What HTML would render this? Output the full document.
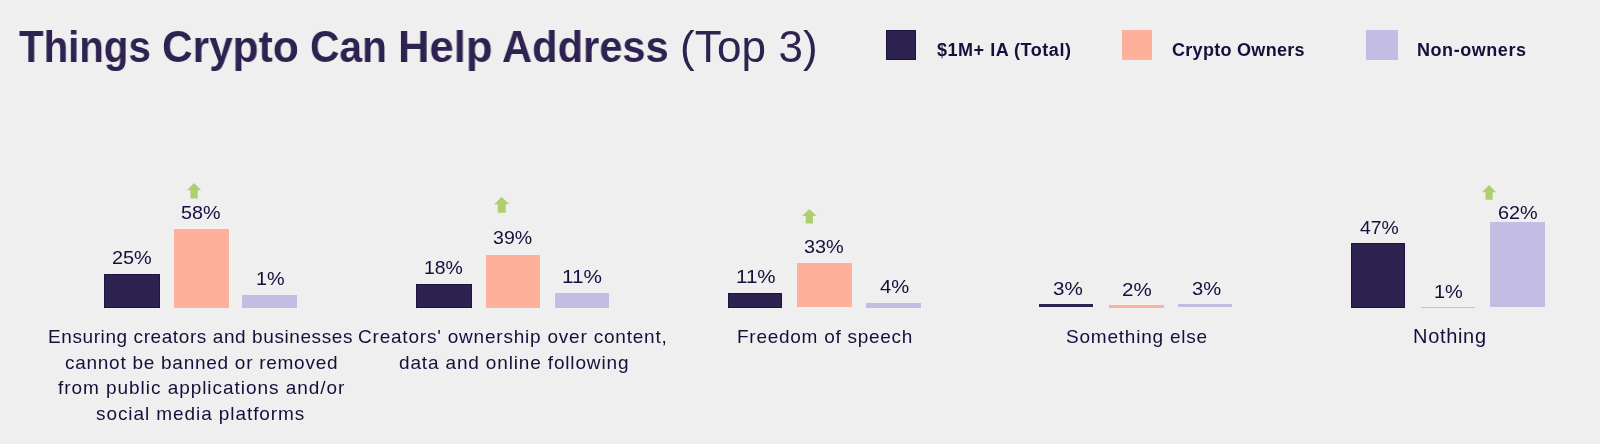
<!DOCTYPE html>
<html><head><meta charset="utf-8"><style>
html,body{margin:0;padding:0;}
body{width:1600px;height:444px;background:#efefef;position:relative;overflow:hidden;font-family:"Liberation Sans",sans-serif;}
.r{position:absolute}
.t{position:absolute;white-space:nowrap;will-change:transform}
</style></head><body>
<div class=t style="left:18.80px;top:25.20px;line-height:44px;font-size:44px;font-weight:bold;color:#2e2350;transform-origin:0 0;transform:scaleX(0.9140)">Things</div>
<div class=t style="left:162.27px;top:25.20px;line-height:44px;font-size:44px;font-weight:bold;color:#2e2350;transform-origin:0 0;transform:scaleX(0.9638)">Crypto</div>
<div class=t style="left:309.65px;top:25.20px;line-height:44px;font-size:44px;font-weight:bold;color:#2e2350;transform-origin:0 0;transform:scaleX(0.9253)">Can</div>
<div class=t style="left:398.33px;top:25.20px;line-height:44px;font-size:44px;font-weight:bold;color:#2e2350;transform-origin:0 0;transform:scaleX(0.9912)">Help</div>
<div class=t style="left:502.45px;top:25.20px;line-height:44px;font-size:44px;font-weight:bold;color:#2e2350;transform-origin:0 0;transform:scaleX(0.9474)">Address</div>
<div class=t style="left:679.80px;top:25.20px;line-height:44px;font-size:44px;font-weight:normal;color:#2e2350;letter-spacing:0.133px">(Top 3)</div>
<div class=t style="left:936.90px;top:40.60px;line-height:18px;font-size:18px;font-weight:bold;color:#160f3c;letter-spacing:0.529px">$1M+ IA (Total)</div>
<div class=t style="left:1171.50px;top:40.60px;line-height:18px;font-size:18px;font-weight:bold;color:#160f3c;letter-spacing:0.292px">Crypto Owners</div>
<div class=t style="left:1417.00px;top:40.60px;line-height:18px;font-size:18px;font-weight:bold;color:#160f3c;letter-spacing:0.556px">Non-owners</div>
<div class=t style="left:48.40px;top:327.00px;line-height:19px;font-size:19px;font-weight:normal;color:#160f3c;letter-spacing:0.587px">Ensuring creators and businesses</div>
<div class=t style="left:64.50px;top:352.50px;line-height:19px;font-size:19px;font-weight:normal;color:#160f3c;letter-spacing:0.731px">cannot be banned or removed</div>
<div class=t style="left:57.80px;top:378.00px;line-height:19px;font-size:19px;font-weight:normal;color:#160f3c;letter-spacing:0.953px">from public applications and/or</div>
<div class=t style="left:96.20px;top:403.50px;line-height:19px;font-size:19px;font-weight:normal;color:#160f3c;letter-spacing:0.919px">social media platforms</div>
<div class=t style="left:358.30px;top:327.00px;line-height:19px;font-size:19px;font-weight:normal;color:#160f3c;letter-spacing:0.791px">Creators' ownership over content,</div>
<div class=t style="left:399.10px;top:352.50px;line-height:19px;font-size:19px;font-weight:normal;color:#160f3c;letter-spacing:0.846px">data and online following</div>
<div class=t style="left:737.00px;top:326.80px;line-height:19px;font-size:19px;font-weight:normal;color:#160f3c;letter-spacing:0.731px">Freedom of speech</div>
<div class=t style="left:1066.00px;top:326.80px;line-height:19px;font-size:19px;font-weight:normal;color:#160f3c;letter-spacing:0.785px">Something else</div>
<div class=t style="left:1413.00px;top:325.60px;line-height:20px;font-size:20px;font-weight:normal;color:#160f3c;letter-spacing:0.683px">Nothing</div>
<div class=t style="left:111.55px;top:248.00px;line-height:19px;font-size:19px;font-weight:normal;color:#160f3c;transform-origin:0 0;transform:scaleX(1.0459)">25%</div>
<div class=t style="left:180.76px;top:203.00px;line-height:19px;font-size:19px;font-weight:normal;color:#160f3c;transform-origin:0 0;transform:scaleX(1.0378)">58%</div>
<div class=t style="left:256.26px;top:269.00px;line-height:19px;font-size:19px;font-weight:normal;color:#160f3c;transform-origin:0 0;transform:scaleX(1.0423)">1%</div>
<div class=t style="left:424.18px;top:258.00px;line-height:19px;font-size:19px;font-weight:normal;color:#160f3c;transform-origin:0 0;transform:scaleX(1.0216)">18%</div>
<div class=t style="left:492.87px;top:228.00px;line-height:19px;font-size:19px;font-weight:normal;color:#160f3c;transform-origin:0 0;transform:scaleX(1.0297)">39%</div>
<div class=t style="left:562.01px;top:267.30px;line-height:19px;font-size:19px;font-weight:normal;color:#160f3c;transform-origin:0 0;transform:scaleX(1.0914)">11%</div>
<div class=t style="left:736.22px;top:267.40px;line-height:19px;font-size:19px;font-weight:normal;color:#160f3c;transform-origin:0 0;transform:scaleX(1.0829)">11%</div>
<div class=t style="left:804.25px;top:236.50px;line-height:19px;font-size:19px;font-weight:normal;color:#160f3c;transform-origin:0 0;transform:scaleX(1.0459)">33%</div>
<div class=t style="left:879.80px;top:277.20px;line-height:19px;font-size:19px;font-weight:normal;color:#160f3c;transform-origin:0 0;transform:scaleX(1.0630)">4%</div>
<div class=t style="left:1052.92px;top:278.70px;line-height:19px;font-size:19px;font-weight:normal;color:#160f3c;transform-origin:0 0;transform:scaleX(1.0846)">3%</div>
<div class=t style="left:1121.82px;top:279.60px;line-height:19px;font-size:19px;font-weight:normal;color:#160f3c;transform-origin:0 0;transform:scaleX(1.0808)">2%</div>
<div class=t style="left:1191.64px;top:278.70px;line-height:19px;font-size:19px;font-weight:normal;color:#160f3c;transform-origin:0 0;transform:scaleX(1.0615)">3%</div>
<div class=t style="left:1359.90px;top:217.60px;line-height:19px;font-size:19px;font-weight:normal;color:#160f3c;transform-origin:0 0;transform:scaleX(1.0184)">47%</div>
<div class=t style="left:1434.45px;top:281.50px;line-height:19px;font-size:19px;font-weight:normal;color:#160f3c;transform-origin:0 0;transform:scaleX(1.0500)">1%</div>
<div class=t style="left:1497.66px;top:202.90px;line-height:19px;font-size:19px;font-weight:normal;color:#160f3c;transform-origin:0 0;transform:scaleX(1.0432)">62%</div>
<div class=r style="left:886px;top:30px;width:30px;height:30px;background:#2e2350;box-shadow:inset 0 0 0 1px #1d1342"></div>
<div class=r style="left:1122px;top:30px;width:30px;height:30px;background:#ffb09a"></div>
<div class=r style="left:1366px;top:30px;width:32px;height:30px;background:#c4bde3"></div>
<div class=r style="left:104px;top:274px;width:56px;height:34px;background:#2e2350;box-shadow:inset 0 0 0 1px #1d1342"></div>
<div class=r style="left:174px;top:229px;width:55px;height:79px;background:#ffb09a"></div>
<div class=r style="left:242px;top:295px;width:55px;height:13px;background:#c4bde3"></div>
<div class=r style="left:416px;top:284px;width:56px;height:24px;background:#2e2350;box-shadow:inset 0 0 0 1px #1d1342"></div>
<div class=r style="left:486px;top:255px;width:54px;height:53px;background:#ffb09a"></div>
<div class=r style="left:555px;top:293px;width:54px;height:15px;background:#c4bde3"></div>
<div class=r style="left:728px;top:293px;width:54px;height:15px;background:#2e2350;box-shadow:inset 0 0 0 1px #1d1342"></div>
<div class=r style="left:797px;top:263px;width:55px;height:44px;background:#ffb09a"></div>
<div class=r style="left:866px;top:303px;width:55px;height:5px;background:#c4bde3"></div>
<div class=r style="left:1039px;top:304px;width:54px;height:3px;background:#2e2350"></div>
<div class=r style="left:1109px;top:305px;width:55px;height:3px;background:#ffb09a"></div>
<div class=r style="left:1178px;top:304px;width:54px;height:3px;background:#c4bde3"></div>
<div class=r style="left:1351px;top:243px;width:54px;height:65px;background:#2e2350;box-shadow:inset 0 0 0 1px #1d1342"></div>
<div class=r style="left:1421px;top:306.5px;width:54px;height:1.5px;background:#ffb09a"></div>
<div class=r style="left:1490px;top:222px;width:55px;height:85px;background:#c4bde3"></div>
<svg style="position:absolute;left:187.20px;top:182.90px;overflow:visible" width="14.20" height="15.40"><polygon points="7.10,0 14.20,7.30 10.70,7.30 10.70,15.40 3.50,15.40 3.50,7.30 0,7.30" fill="#afce6e"/></svg>
<svg style="position:absolute;left:494.10px;top:197.30px;overflow:visible" width="15.40" height="15.70"><polygon points="7.70,0 15.40,7.30 11.70,7.30 11.70,15.70 3.70,15.70 3.70,7.30 0,7.30" fill="#afce6e"/></svg>
<svg style="position:absolute;left:801.60px;top:209.00px;overflow:visible" width="14.60" height="14.60"><polygon points="7.30,0 14.60,6.90 10.90,6.90 10.90,14.60 3.70,14.60 3.70,6.90 0,6.90" fill="#afce6e"/></svg>
<svg style="position:absolute;left:1482.05px;top:185.20px;overflow:visible" width="14.20" height="14.80"><polygon points="7.10,0 14.20,7.30 10.70,7.30 10.70,14.80 3.50,14.80 3.50,7.30 0,7.30" fill="#afce6e"/></svg>
</body></html>
